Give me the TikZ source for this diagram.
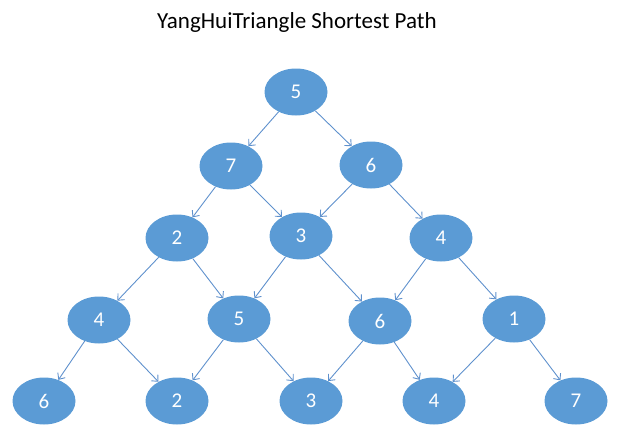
\documentclass[tikz,border=0pt]{standalone}
\usepackage{fontspec}
\setmainfont{Carlito}
\usetikzlibrary{shapes.geometric,arrows.meta}
\definecolor{cellblue}{RGB}{91,155,213}
\definecolor{edgeblue}{RGB}{95,145,205}

\begin{document}
\begin{tikzpicture}[x=1pt,y=-1pt,>={Straight Barb[length=5pt,width=9pt]},
    cell/.style={ellipse,fill=cellblue,text=white,minimum width=63pt,minimum height=47pt,inner sep=0pt,font=\fontsize{21}{25}\selectfont},
    every edge/.style={draw=edgeblue,line width=0.9pt}]
    \useasboundingbox (0,0) rectangle (638,442);
    \node[font=\fontsize{23}{27}\selectfont] (title) at (297,22) {YangHuiTriangle Shortest Path};

    \node[cell] (p_00) at (296,92)  {5};
    \node[cell] (p_10) at (231,166) {7};
    \node[cell] (p_11) at (371,165) {6};
    \node[cell] (p_20) at (177,238) {2};
    \node[cell] (p_21) at (301,236) {3};
    \node[cell] (p_22) at (441,238) {4};
    \node[cell] (p_30) at (99,320)  {4};
    \node[cell] (p_31) at (239,319) {5};
    \node[cell] (p_32) at (380,321) {6};
    \node[cell] (p_33) at (514,319) {1};
    \node[cell] (p_40) at (44,401)  {6};
    \node[cell] (p_41) at (177,401) {2};
    \node[cell] (p_42) at (311,401) {3};
    \node[cell] (p_43) at (434,401) {4};
    \node[cell] (p_44) at (576,401) {7};

    \path[->] (p_00) edge (p_10)
                     edge (p_11)
              (p_10) edge (p_20)
                     edge (p_21)
              (p_11) edge (p_21)
                     edge (p_22)
              (p_20) edge (p_30)
                     edge (p_31)
              (p_21) edge (p_31)
                     edge (p_32)
              (p_22) edge (p_32)
                     edge (p_33)
              (p_30) edge (p_40)
                     edge (p_41)
              (p_31) edge (p_41)
                     edge (p_42)
              (p_32) edge (p_42)
                     edge (p_43)
              (p_33) edge (p_43)
                     edge (p_44);
\end{tikzpicture}
\end{document}
